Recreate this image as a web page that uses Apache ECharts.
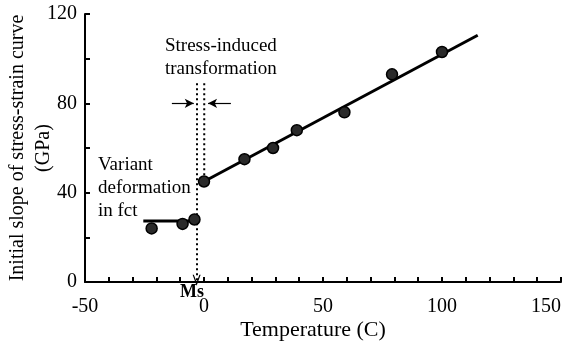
<!DOCTYPE html>
<html><head><meta charset="utf-8">
<script src="https://cdn.jsdelivr.net/npm/echarts@6/dist/echarts.min.js"></script>
<style>html,body{margin:0;padding:0;background:#fff}#c{width:568px;height:342px}</style>
</head><body><div id="c"></div>
<script>
// Data
const temps  = [-22, -9, -4, 0, 17, 29, 39, 59, 79, 100];
const slopes = [24, 26, 28, 45, 55, 60, 68, 76, 93, 103];
const fctLine = [[-25.5, 27.3], [-4, 27.3]];
const fitLine = [[0, 45], [115, 110.5]];
const msDotted = [[-3.1, 89], [-3.1, 0.8]];
const sitDotted = [[0.1, 89], [0.1, 46]];
const arrowLeft = [[-13.5, 80], [-4.3, 80]];
const arrowRight = [[11.3, 80], [1.7, 80]];
const xLabels = [-50, 0, 50, 100, 150];
const yLabels = [0, 40, 80, 120];

const FF = '"Liberation Serif", "Times New Roman", serif';
const chart = echarts.init(document.getElementById('c'), null, {renderer: 'canvas'});
const axisCommon = {
  axisLine: {onZero: false, lineStyle: {color: '#000', width: 2}},
  axisTick: {inside: true, length: 5, lineStyle: {color: '#000', width: 2}},
  splitLine: {show: false},
  nameMoveOverlap: false
};
chart.setOption({
  animation: false,
  backgroundColor: '#fff',
  grid: {left: 85, right: 7, top: 14, bottom: 60, containLabel: false, outerBoundsMode: 'none'},
  xAxis: Object.assign({
    type: 'value', min: -50, max: 150, interval: 10,
    axisLabel: {formatter: v => xLabels.includes(v) ? String(v) : '', color: '#000', fontFamily: FF, fontSize: 20, margin: 15,
      alignMaxLabel: 'right', alignMinLabel: 'center'},
    name: 'Temperature (C)', nameLocation: 'middle', nameGap: 37,
    nameTextStyle: {color: '#000', fontFamily: FF, fontSize: 22, padding: [0, 20, 0, 0]}
  }, axisCommon),
  yAxis: Object.assign({
    type: 'value', min: 0, max: 120, interval: 20,
    axisLabel: {formatter: v => yLabels.includes(v) ? String(v) : '', color: '#000', fontFamily: FF, fontSize: 20, margin: 8},
    name: 'Initial slope of stress-strain curve\n(GPa)', nameLocation: 'middle', nameGap: 28,
    nameTextStyle: {color: '#000', fontFamily: FF, fontSize: 20, lineHeight: 26}
  }, axisCommon),
  series: [
    {type: 'line', data: fctLine, showSymbol: false, lineStyle: {color: '#000', width: 3}, z: 3},
    {type: 'line', data: fitLine, showSymbol: false, lineStyle: {color: '#000', width: 3}, z: 3},
    {type: 'line', data: sitDotted, showSymbol: false, lineStyle: {color: '#000', width: 2, type: [2, 3]}, z: 2},
    {type: 'scatter', data: temps.map((t, i) => [t, slopes[i]]), symbolSize: 11,
      itemStyle: {color: '#2a2a2a', borderColor: '#000', borderWidth: 1.5, opacity: 1}, z: 5,
      markLine: {
        silent: true, animation: false, label: {show: false}, emphasis: {disabled: true},
        data: [
          [{coord: msDotted[0], symbol: 'none', lineStyle: {type: [2, 3], width: 2, color: '#000'}},
           {coord: msDotted[1], symbol: 'path://M5,0 L10,12 L8.5,12 L5,4 L1.5,12 L0,12 Z', symbolSize: [8, 11]}],
          [{coord: arrowLeft[0], symbol: 'none', lineStyle: {type: 'solid', width: 1.2, color: '#000'}},
           {coord: arrowLeft[1], symbol: 'arrow', symbolSize: [7, 9]}],
          [{coord: arrowRight[0], symbol: 'none', lineStyle: {type: 'solid', width: 1.2, color: '#000'}},
           {coord: arrowRight[1], symbol: 'arrow', symbolSize: [7, 9]}]
        ],
        lineStyle: {color: '#000'},
        itemStyle: {color: '#000'}
      }
    }
  ],
  graphic: [
    {type: 'text', left: 165, top: 35, style: {text: 'Stress-induced\ntransformation', fill: '#000', font: '19px ' + FF, lineHeight: 23, align: 'center'}, z: 10},
    {type: 'text', left: 98, top: 154, style: {text: 'Variant\ndeformation\nin fct', fill: '#000', font: '19px ' + FF, lineHeight: 23}, z: 10},
    {type: 'text', left: 180, top: 283, style: {text: 'Ms', fill: '#000', font: 'bold 18px ' + FF}, z: 10}
  ]
});
</script></body></html>
